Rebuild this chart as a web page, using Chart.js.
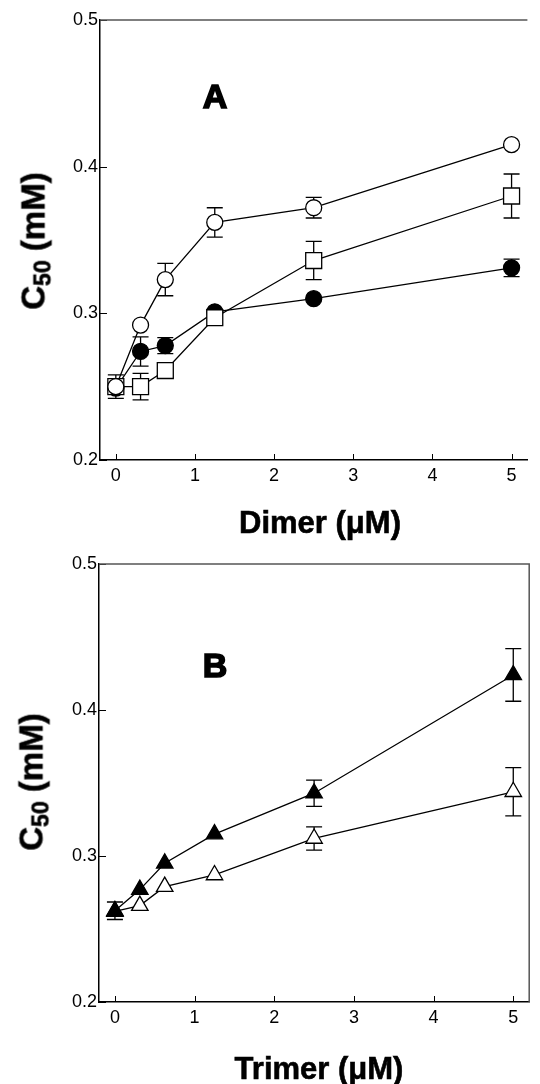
<!DOCTYPE html>
<html>
<head>
<meta charset="utf-8">
<script src="https://cdn.jsdelivr.net/npm/chart.js@4"></script>
<style>
  html, body { margin: 0; padding: 0; background: #fff; }
  body { width: 540px; height: 1084px; position: relative; overflow: hidden; }
  canvas { position: absolute; left: 0; }
  .lbl { position: absolute; font-family: "Liberation Sans", Arial, sans-serif; font-weight: bold; color: #000;
         white-space: nowrap; line-height: 1; transform: translate(-50%, -50%); -webkit-text-stroke: 0.6px #000; }
  .panel { font-size: 34px; -webkit-text-stroke: 1.6px #000; }
  .ytitle { font-size: 33px; transform: translate(-50%, -50%) rotate(-90deg); }
  .ytitle .sub { font-size: 23px; position: relative; top: 6px; }
  .xtitle { font-size: 31px; }
</style>
</head>
<body>
<canvas id="chartA" width="540" height="540" style="top:0"></canvas>
<canvas id="chartB" width="540" height="544" style="top:540px"></canvas>

<div class="lbl panel" style="left:215px; top:96px">A</div>
<div class="lbl ytitle" style="left:33px; top:241px">C<span class="sub">50</span> (mM)</div>
<div class="lbl xtitle" style="left:320px; top:522px">Dimer (&mu;M)</div>

<div class="lbl panel" style="left:215px; top:665px">B</div>
<div class="lbl ytitle" style="left:31px; top:782px">C<span class="sub">50</span> (mM)</div>
<div class="lbl xtitle" style="left:319px; top:1068px">Trimer (&mu;M)</div>

<script>
// concentrations (uM)
const dimerX = [0, 0.3125, 0.625, 1.25, 2.5, 5];
const trimerX = [0, 0.3125, 0.625, 1.25, 2.5, 5];

// panel A
const openCircle = [0.250, 0.292, 0.323, 0.362, 0.372, 0.415];
const openCircleErr = [0, 0, 0.011, 0.010, 0.007, 0];
const openSquare = [0.250, 0.250, 0.261, 0.297, 0.336, 0.380];
const openSquareErr = [0.008, 0.009, 0, 0, 0.013, 0.015];
const filledCircle = [0.249, 0.274, 0.278, 0.301, 0.310, 0.331];
const filledCircleErr = [0, 0.010, 0.0055, 0, 0, 0.006];

// panel B
const filledTriangle = [0.2625, 0.277, 0.295, 0.315, 0.343, 0.424];
const filledTriangleErr = [0.006, 0, 0, 0, 0.009, 0.018];
const openTriangle = [0.262, 0.266, 0.279, 0.287, 0.312, 0.344];
const openTriangleErr = [0, 0, 0, 0, 0.008, 0.0165];

const xTicks = [0, 1, 2, 3, 4, 5];
const yTicks = [0.2, 0.3, 0.4, 0.5];

function pts(xs, ys) {
  return xs.map((x, i) => ({ x: x, y: ys[i] }));
}

function series(xs, ys, errs, style, radius, fill) {
  return {
    data: pts(xs, ys),
    errors: errs,
    showLine: true,
    borderColor: '#000',
    borderWidth: 1.3,
    pointStyle: style,
    pointRadius: radius,
    pointBackgroundColor: fill,
    pointBorderColor: '#000',
    pointBorderWidth: 1.3
  };
}

// error bars, drawn under the markers
const errorBars = {
  id: 'errorBars',
  beforeDatasetsDraw(chart) {
    const ctx = chart.ctx;
    const xs = chart.scales.x, ys = chart.scales.y;
    ctx.save();
    ctx.strokeStyle = '#000';
    ctx.lineWidth = 1.3;
    chart.data.datasets.forEach(ds => {
      ds.data.forEach((p, i) => {
        const e = ds.errors[i];
        if (!e) return;
        const px = xs.getPixelForValue(p.x);
        const top = ys.getPixelForValue(p.y + e);
        const bot = ys.getPixelForValue(p.y - e);
        ctx.beginPath();
        ctx.moveTo(px, top); ctx.lineTo(px, bot);
        ctx.moveTo(px - 8, top); ctx.lineTo(px + 8, top);
        ctx.moveTo(px - 8, bot); ctx.lineTo(px + 8, bot);
        ctx.stroke();
      });
    });
    ctx.restore();
  }
};

// inside ticks and the grey top / right frame
const frame = {
  id: 'frame',
  afterDraw(chart, args, opts) {
    const ctx = chart.ctx;
    const a = chart.chartArea;
    const xs = chart.scales.x, ys = chart.scales.y;
    ctx.save();
    ctx.strokeStyle = '#000';
    ctx.lineWidth = 1;
    xTicks.forEach(v => {
      const px = Math.round(xs.getPixelForValue(v)) + 0.5;
      ctx.beginPath(); ctx.moveTo(px, a.bottom); ctx.lineTo(px, a.bottom - 6); ctx.stroke();
    });
    yTicks.forEach(v => {
      const py = Math.round(ys.getPixelForValue(v)) + 0.5;
      ctx.beginPath(); ctx.moveTo(a.left, py); ctx.lineTo(a.left + 7, py); ctx.stroke();
    });
    ctx.strokeStyle = '#555';
    ctx.lineWidth = 1.5;
    ctx.beginPath();
    ctx.moveTo(a.left, a.top); ctx.lineTo(a.right, a.top);
    if (opts.right) ctx.lineTo(a.right, a.bottom);
    ctx.stroke();
    ctx.restore();
  }
};

function makeChart(id, datasets, pad, yWidth, xHeight, rightFrame) {
  const tickFont = { family: '"Liberation Sans", Arial, sans-serif', size: 18 };
  return new Chart(document.getElementById(id), {
    type: 'scatter',
    data: { datasets: datasets },
    options: {
      responsive: false,
      animation: false,
      layout: { padding: pad },
      plugins: { legend: { display: false }, tooltip: { enabled: false }, frame: { right: rightFrame } },
      scales: {
        x: {
          type: 'linear', min: -0.2, max: 5.2,
          afterBuildTicks: s => { s.ticks = xTicks.map(v => ({ value: v })); },
          afterFit: s => { s.height = xHeight; },
          grid: { display: false, drawTicks: false },
          border: { color: '#000', width: 1.5 },
          ticks: { padding: 5, color: '#000', font: tickFont, maxRotation: 0, autoSkip: false, callback: v => String(v) }
        },
        y: {
          type: 'linear', min: 0.2, max: 0.5,
          afterBuildTicks: s => { s.ticks = yTicks.map(v => ({ value: v })); },
          afterFit: s => { s.width = yWidth; },
          grid: { display: false, drawTicks: false },
          border: { color: '#000', width: 1.5 },
          ticks: { padding: 2, color: '#000', font: tickFont, autoSkip: false, callback: v => v.toFixed(1) }
        }
      }
    },
    plugins: [errorBars, frame]
  });
}

makeChart('chartA', [
  series(dimerX, openCircle, openCircleErr, 'circle', 8, '#fff'),
  series(dimerX, openSquare, openSquareErr, 'rect', 11.3, '#fff'),
  series(dimerX, filledCircle, filledCircleErr, 'circle', 8, '#000')
], { top: 20, right: 0, left: 0, bottom: 0 }, 100, 80, false);

makeChart('chartB', [
  series(trimerX, filledTriangle, filledTriangleErr, 'triangle', 9.5, '#000'),
  series(trimerX, openTriangle, openTriangleErr, 'triangle', 9.5, '#fff')
], { top: 24, right: 2, left: 0, bottom: 0 }, 99, 82, true);
</script>
</body>
</html>
